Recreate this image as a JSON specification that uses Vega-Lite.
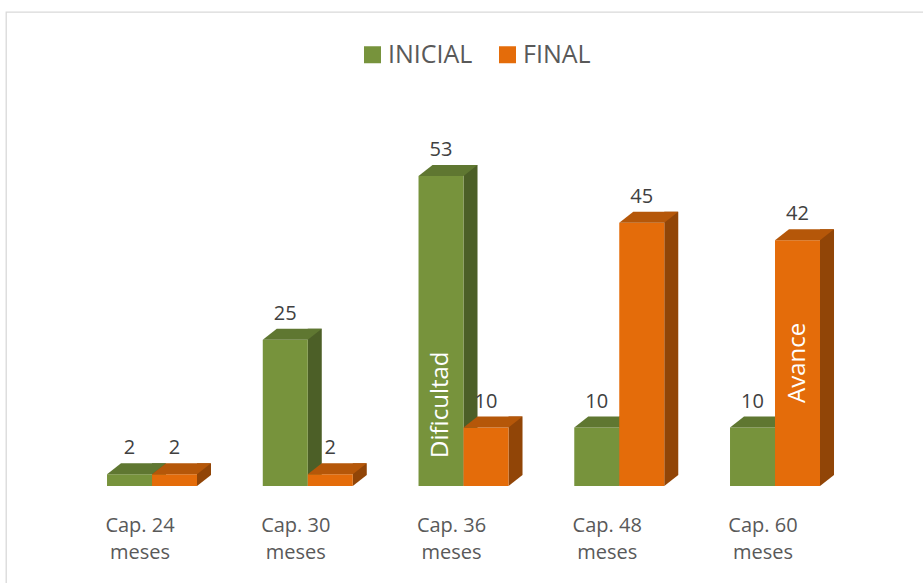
{
  "$schema": "https://vega.github.io/schema/vega-lite/v6.json",
  "width": 920,
  "height": 574,
  "autosize": {"type": "none"},
  "padding": {"left": 6, "top": 12, "right": -3, "bottom": -3},
  "background": "white",
  "config": {
    "view": {"stroke": "#D9D9D9", "strokeWidth": 1.3},
    "font": "Open Sans"
  },
  "data": {
    "values": [
      {"cap": "Cap. 24\nmeses", "serie": "INICIAL", "valor": 2},
      {"cap": "Cap. 24\nmeses", "serie": "FINAL", "valor": 2},
      {"cap": "Cap. 30\nmeses", "serie": "INICIAL", "valor": 25},
      {"cap": "Cap. 30\nmeses", "serie": "FINAL", "valor": 2},
      {"cap": "Cap. 36\nmeses", "serie": "INICIAL", "valor": 53, "nota": "Dificultad"},
      {"cap": "Cap. 36\nmeses", "serie": "FINAL", "valor": 10},
      {"cap": "Cap. 48\nmeses", "serie": "INICIAL", "valor": 10},
      {"cap": "Cap. 48\nmeses", "serie": "FINAL", "valor": 45},
      {"cap": "Cap. 60\nmeses", "serie": "INICIAL", "valor": 10},
      {"cap": "Cap. 60\nmeses", "serie": "FINAL", "valor": 42, "nota": "Avance"}
    ]
  },
  "encoding": {
    "x": {
      "field": "cap", "type": "nominal", "sort": null, "axis": null,
      "scale": {"paddingInner": 0.4222, "paddingOuter": 0.6646, "align": 0.488}
    }
  },
  "layer": [
    {
      "transform": [{"filter": "datum.serie === 'INICIAL'"}],
      "mark": {"type": "bar", "width": 14, "xOffset": 7, "yOffset": -11, "y2Offset": -11, "color": "#4C5F27"},
      "encoding": {
        "y": {"field": "valor", "type": "quantitative", "axis": null, "scale": {"domain": [-17.094, 81.026], "nice": false, "zero": false}},
        "y2": {"datum": 0}
      }
    },
    {
      "transform": [{"filter": "datum.serie === 'INICIAL'"}],
      "mark": {"type": "point", "shape": "M22.5,0L22.5,-11L36.5,-11Z", "size": 4, "filled": true, "opacity": 1, "strokeWidth": 0, "color": "#4C5F27"},
      "encoding": {
        "xOffset": {"field": "serie", "scale": {"domain": ["INICIAL", "FINAL"]}},
        "y": {"datum": 0, "type": "quantitative"}
      }
    },
    {
      "transform": [{"filter": "datum.serie === 'INICIAL'"}],
      "mark": {"type": "bar"},
      "encoding": {
        "xOffset": {"field": "serie", "scale": {"domain": ["INICIAL", "FINAL"]}},
        "y": {"field": "valor", "type": "quantitative"},
        "y2": {"datum": 0},
        "color": {
          "field": "serie", "type": "nominal",
          "scale": {"domain": ["INICIAL", "FINAL"], "range": ["#77933C", "#E46C0A"]},
          "legend": {
            "orient": "none", "legendX": 354, "legendY": 30, "direction": "horizontal",
            "title": null, "symbolType": "square", "symbolSize": 289, "symbolStrokeWidth": 0,
            "labelFontSize": 25, "labelColor": "#595959", "labelOffset": 3, "columnPadding": 22, "padding": 0
          }
        }
      }
    },
    {
      "transform": [{"filter": "datum.serie === 'INICIAL'"}],
      "mark": {"type": "point", "shape": "M-22.5,0L22.5,0L36.5,-11L-8.5,-11Z", "size": 4, "filled": true, "opacity": 1, "strokeWidth": 0, "color": "#5F7731"},
      "encoding": {
        "xOffset": {"field": "serie", "scale": {"domain": ["INICIAL", "FINAL"]}},
        "y": {"field": "valor", "type": "quantitative"}
      }
    },
    {
      "transform": [{"filter": "datum.serie === 'FINAL'"}],
      "mark": {"type": "bar", "width": 14, "xOffset": 52, "yOffset": -11, "y2Offset": -11, "color": "#914507"},
      "encoding": {
        "y": {"field": "valor", "type": "quantitative"},
        "y2": {"datum": 0}
      }
    },
    {
      "transform": [{"filter": "datum.serie === 'FINAL'"}],
      "mark": {"type": "point", "shape": "M22.5,0L22.5,-11L36.5,-11Z", "size": 4, "filled": true, "opacity": 1, "strokeWidth": 0, "color": "#914507"},
      "encoding": {
        "xOffset": {"field": "serie", "scale": {"domain": ["INICIAL", "FINAL"]}},
        "y": {"datum": 0, "type": "quantitative"}
      }
    },
    {
      "transform": [{"filter": "datum.serie === 'FINAL'"}],
      "mark": {"type": "bar"},
      "encoding": {
        "xOffset": {"field": "serie", "scale": {"domain": ["INICIAL", "FINAL"]}},
        "y": {"field": "valor", "type": "quantitative"},
        "y2": {"datum": 0},
        "color": {"field": "serie", "type": "nominal"}
      }
    },
    {
      "transform": [{"filter": "datum.serie === 'FINAL'"}],
      "mark": {"type": "point", "shape": "M-22.5,0L22.5,0L36.5,-11L-8.5,-11Z", "size": 4, "filled": true, "opacity": 1, "strokeWidth": 0, "color": "#B55709"},
      "encoding": {
        "xOffset": {"field": "serie", "scale": {"domain": ["INICIAL", "FINAL"]}},
        "y": {"field": "valor", "type": "quantitative"}
      }
    },
    {
      "mark": {"type": "text", "dy": -20, "baseline": "alphabetic", "fontSize": 20, "color": "#404040"},
      "encoding": {
        "xOffset": {"field": "serie", "scale": {"domain": ["INICIAL", "FINAL"]}},
        "y": {"field": "valor", "type": "quantitative"},
        "text": {"field": "valor", "type": "quantitative"}
      }
    },
    {
      "transform": [{"filter": "datum.serie === 'INICIAL'"}],
      "mark": {"type": "text", "dx": -12, "dy": 45.7, "baseline": "alphabetic", "fontSize": 20, "color": "#595959", "lineBreak": "\n", "lineHeight": 27.6},
      "encoding": {
        "y": {"datum": 0, "type": "quantitative"},
        "text": {"field": "cap", "type": "nominal"}
      }
    },
    {
      "transform": [{"filter": "datum.nota === 'Dificultad'"}],
      "mark": {"type": "text", "angle": 270, "align": "left", "baseline": "middle", "fontSize": 24, "color": "white"},
      "encoding": {
        "xOffset": {"field": "serie", "scale": {"domain": ["INICIAL", "FINAL"]}},
        "y": {"datum": 4.8, "type": "quantitative"},
        "text": {"field": "nota", "type": "nominal"}
      }
    },
    {
      "transform": [{"filter": "datum.nota === 'Avance'"}],
      "mark": {"type": "text", "angle": 270, "align": "left", "baseline": "middle", "fontSize": 24, "color": "white"},
      "encoding": {
        "xOffset": {"field": "serie", "scale": {"domain": ["INICIAL", "FINAL"]}},
        "y": {"datum": 14.2, "type": "quantitative"},
        "text": {"field": "nota", "type": "nominal"}
      }
    }
  ]
}
